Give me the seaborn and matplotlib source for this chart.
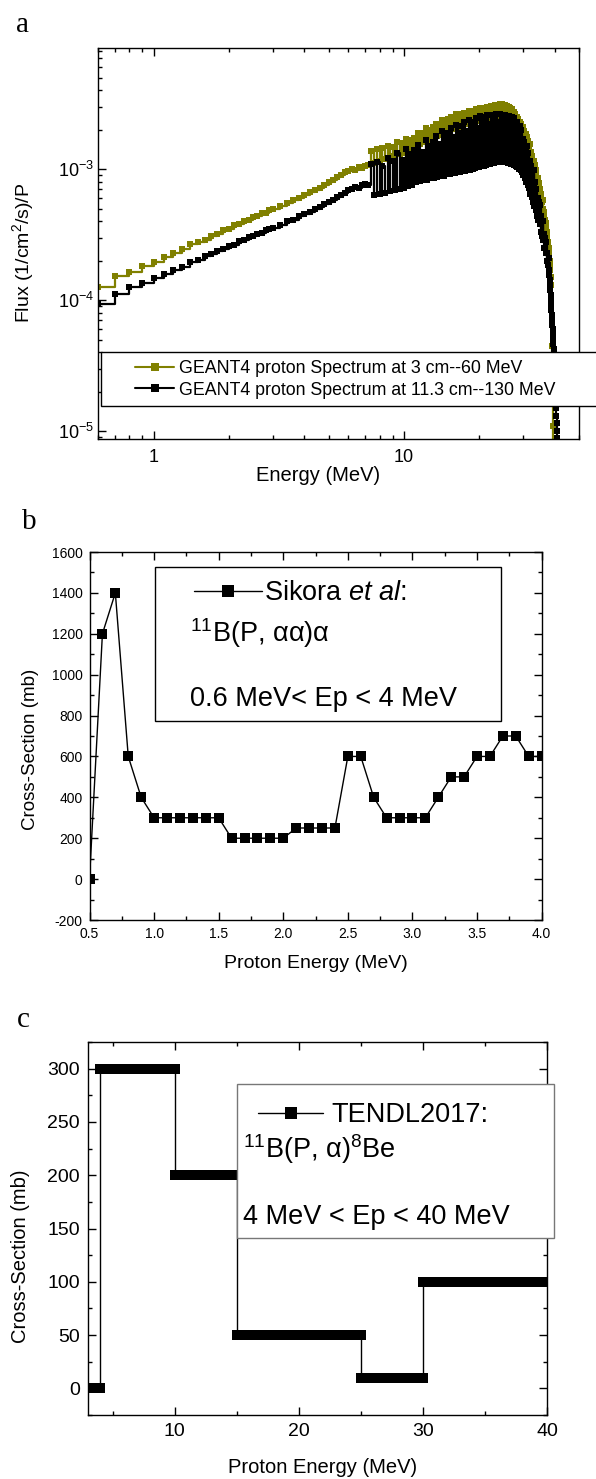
import numpy as np
import seaborn as sns
import matplotlib.pyplot as plt
from matplotlib.lines import Line2D
from matplotlib.patches import Rectangle
from matplotlib.ticker import LogLocator, MultipleLocator, NullFormatter

sns.set_theme(style="ticks")
plt.rcParams['font.family'] = ['Liberation Sans', 'DejaVu Sans']
plt.rcParams.update({
    'mathtext.fontset': 'custom',
    'mathtext.rm': 'Liberation Sans',
    'mathtext.it': 'Liberation Sans:italic',
    'mathtext.default': 'regular',
    'axes.unicode_minus': False,
    'text.color': 'black',
    'axes.labelcolor': 'black',
    'axes.edgecolor': 'black',
    'xtick.color': 'black',
    'ytick.color': 'black',
    'axes.linewidth': 1.0,
})

W, H = 596, 1479
OLIVE = '#808000'

# ---------------- panel a : GEANT4 spectra (flux in 1e-6 units) ----------------
energy_fine = [0.6, 0.7, 0.8, 0.9, 1.0, 1.1, 1.2, 1.3, 1.4, 1.5, 1.6, 1.7, 1.8,
               1.9, 2.0, 2.1, 2.2, 2.3, 2.4, 2.5, 2.6, 2.7, 2.8, 2.9, 3.0]
energy_coarse = np.round(np.arange(3.2, 37.81, 0.2), 1)   # 0.2 MeV bins
energy_tail = np.round(np.arange(38.0, 41.01, 0.1), 1)    # fall-off, 0.1 MeV bins

flux_3cm_fine = [126, 152, 163, 183, 196, 214, 230, 246, 266, 277, 290, 310, 320,
                 342, 350, 372, 380, 402, 410, 430, 438, 460, 466, 490, 496]
flux_3cm_coarse = [
    527, 552, 585, 606, 636,
    665, 690, 722, 755, 790,
    820, 870, 905, 945, 965,
    1000, 990, 1040, 1020, 1060,
    1070, 1380, 1120, 1420, 1160,
    1460, 1200, 1490, 1250, 1470,
    1280, 1600, 1300, 1580, 1330,
    1700, 1380, 1680, 1400, 1720,
    1500, 1900, 1550, 1870, 1600,
    2050, 1650, 2000, 1680, 2080,
    1750, 2200, 1780, 2170, 1820,
    2380, 1900, 2320, 1930, 2400,
    2000, 2500, 2030, 2460, 2060,
    2620, 2100, 2580, 2150, 2640,
    2180, 2700, 2200, 2660, 2230,
    2780, 2250, 2740, 2280, 2800,
    2300, 2850, 2330, 2820, 2350,
    2920, 2380, 2880, 2400, 2950,
    2420, 3000, 2450, 2970, 2470,
    3050, 2480, 3020, 2500, 3080,
    2510, 3100, 2520, 3080, 2530,
    3150, 2540, 3120, 2530, 3100,
    2520, 3100, 2500, 3050, 2480,
    2980, 2450, 2920, 2400, 2850,
    2350, 2750, 2280, 2650, 2200,
    2500, 2120, 2420, 2050, 2300,
    1950, 2200, 1880, 2100, 1800,
    1950, 1700, 1850, 1620, 1750,
    1550, 1650, 1450, 1550, 1350,
    1350, 1220, 1250, 1120, 1150,
    1000, 1080, 920, 980, 850,
    850, 760, 780, 690, 700,
    620, 640, 560, 580, 500,
    470, 440, 410, 390, 350,
    330, 300, 280, 250,
]
flux_3cm_tail = [230, 215, 200, 185, 170, 150, 130, 110, 90, 70, 45, 17, 11, 6, 4,
                 3, 2, 2, 1, 1, 1, 1, 1, 1, 1, 1, 1, 1, 1, 1, 1]

flux_11cm_fine = [94, 112, 125, 136, 148, 157, 171, 180, 195, 203, 217, 224, 239,
                  245, 259, 265, 281, 286, 301, 306, 320, 326, 340, 346, 358]
flux_11cm_coarse = [
    375, 398, 412, 436, 452,
    472, 495, 515, 540, 560,
    580, 610, 635, 660, 690,
    700, 725, 715, 750, 770,
    760, 1100, 630, 1130, 650,
    1050, 660, 1220, 680, 1150,
    690, 1320, 710, 1180, 720,
    1430, 740, 1300, 760, 1410,
    790, 1540, 810, 1350, 820,
    1660, 830, 1500, 850, 1620,
    860, 1800, 870, 1550, 880,
    1940, 890, 1700, 910, 1880,
    920, 2060, 930, 1750, 940,
    2170, 945, 1900, 955, 2120,
    960, 2280, 970, 1950, 980,
    2380, 990, 2100, 1000, 2300,
    1020, 2450, 1030, 2050, 1040,
    2520, 1050, 2250, 1060, 2480,
    1080, 2570, 1090, 2200, 1100,
    2600, 1110, 2350, 1120, 2560,
    1130, 2620, 1130, 2300, 1140,
    2630, 1140, 2400, 1140, 2580,
    1140, 2600, 1130, 2250, 1120,
    2540, 1110, 2300, 1100, 2480,
    1090, 2440, 1070, 2150, 1050,
    2280, 1040, 2050, 1000, 2150,
    980, 1980, 950, 1700, 900,
    1620, 860, 1450, 800, 1500,
    760, 1320, 720, 1150, 650,
    1060, 610, 950, 560, 980,
    520, 800, 490, 700, 440,
    600, 410, 560, 380, 530,
    330, 440, 310, 400, 290,
    320, 250, 300, 230, 280,
    200, 230, 185, 210,
]
flux_11cm_tail = [170, 155, 142, 130, 119, 109, 100, 92, 84, 77, 71, 65, 60, 55,
                  50, 46, 42, 38, 35, 31, 28, 25, 22, 19.5, 17, 15, 13, 11.5, 10,
                  8.8, 7.6]

labels_a = ['GEANT4 proton Spectrum at 3 cm--60 MeV',
            'GEANT4 proton Spectrum at 11.3 cm--130 MeV']

# ---------------- panel b : Sikora et al ----------------
b_energy = [0.5, 0.6, 0.7, 0.8, 0.9, 1.0, 1.1, 1.2, 1.3, 1.4, 1.5, 1.6, 1.7, 1.8,
            1.9, 2.0, 2.1, 2.2, 2.3, 2.4, 2.5, 2.6, 2.7, 2.8, 2.9, 3.0, 3.1, 3.2,
            3.3, 3.4, 3.5, 3.6, 3.7, 3.8, 3.9, 4.0]
b_xs = [0, 1200, 1400, 600, 400, 300, 300, 300, 300, 300, 300, 200, 200, 200,
        200, 200, 250, 250, 250, 250, 600, 600, 400, 300, 300, 300, 300, 400,
        500, 500, 600, 600, 700, 700, 600, 600]

# ---------------- panel c : TENDL2017 ----------------
c_start = [3, 4, 10, 15, 25, 30]
c_end = [4, 10, 15, 25, 30, 40]
c_xs = [0, 300, 200, 50, 10, 100]


def fig_rect(left, top, right, bottom):
    return [left / W, 1 - bottom / H, (right - left) / W, (bottom - top) / H]


def fx(x):
    return x / W


def fy(y):
    return 1 - y / H


def box(left, top, right, bottom, ec='black'):
    r = Rectangle((fx(left), fy(bottom)), (right - left) / W, (bottom - top) / H,
                  transform=fig.transFigure, facecolor='white', edgecolor=ec,
                  lw=1.0, zorder=5)
    fig.add_artist(r)


def style_ticks(ax, labelsize, pad, right=True):
    ax.tick_params(which='both', direction='in', top=True, right=right, width=1)
    ax.tick_params(which='major', length=6, labelsize=labelsize, pad=pad)
    ax.tick_params(which='minor', length=3)


fig = plt.figure(figsize=(W / 100, H / 100), dpi=100)

# ---- a ----
energy = np.concatenate([energy_fine, energy_coarse, energy_tail])
flux_3cm = np.array(flux_3cm_fine + flux_3cm_coarse + flux_3cm_tail) * 1e-6
flux_11cm = np.array(flux_11cm_fine + flux_11cm_coarse + flux_11cm_tail) * 1e-6

ax_a = fig.add_axes(fig_rect(98, 48, 579, 439))
for y, col in [(flux_3cm, OLIVE), (flux_11cm, 'black')]:
    sns.lineplot(x=energy, y=y, ax=ax_a, color=col, marker='s', markersize=5,
                 markeredgewidth=0, lw=1.6, drawstyle='steps-post',
                 estimator=None, sort=False, legend=False)
ax_a.set_xscale('log')
ax_a.set_yscale('log')
ax_a.set_xlim(0.6, 50)
ax_a.set_ylim(8.7e-6, 8.4e-3)
ax_a.set_xticks([1, 10], labels=['1', '10'])
ax_a.xaxis.set_minor_locator(LogLocator(base=10, subs=np.arange(2, 10)))
ax_a.xaxis.set_minor_formatter(NullFormatter())
ax_a.yaxis.set_major_locator(LogLocator(base=10, numticks=10))
ax_a.yaxis.set_minor_locator(LogLocator(base=10, subs=np.arange(2, 10), numticks=10))
ax_a.yaxis.set_minor_formatter(NullFormatter())
style_ticks(ax_a, 13, 3, right=False)
ax_a.tick_params(axis='x', which='major', pad=7)
ax_a.set_xlabel('Energy (MeV)', fontsize=14.5, va='center')
ax_a.xaxis.set_label_coords(0.457, -0.094)
ax_a.set_ylabel('Flux (1/cm$^{2}$/s)/P', fontsize=14, va='center')
ax_a.yaxis.set_label_coords(-0.156, 0.476)

box(101, 352, 600, 406)
handles_a = [Line2D([], [], color=OLIVE, marker='s', ms=6, mew=0, lw=1.5),
             Line2D([], [], color='black', marker='s', ms=6, mew=0, lw=1.5)]
leg = fig.legend(handles_a, labels_a, loc='center left',
                 bbox_to_anchor=(fx(135), fy(379.5)), frameon=False, fontsize=12.8,
                 handlelength=2.2, handletextpad=0.3, labelspacing=0.25,
                 borderpad=0, borderaxespad=0)
leg.set_zorder(7)

# ---- b ----
ax_b = fig.add_axes(fig_rect(89.5, 552, 541.6, 920))
sns.lineplot(x=b_energy, y=b_xs, ax=ax_b, color='black', marker='s',
             markersize=7.5, markeredgewidth=0, lw=1.0, estimator=None,
             sort=False, legend=False)
ax_b.set_xlim(0.5, 4.0)
ax_b.set_ylim(-200, 1600)
ax_b.xaxis.set_major_locator(MultipleLocator(0.5))
ax_b.xaxis.set_minor_locator(MultipleLocator(0.25))
ax_b.yaxis.set_major_locator(MultipleLocator(200))
ax_b.yaxis.set_minor_locator(MultipleLocator(100))
style_ticks(ax_b, 10, 5)
ax_b.set_xlabel('Proton Energy (MeV)', fontsize=14, va='center')
ax_b.xaxis.set_label_coords(0.5, -0.117)
ax_b.set_ylabel('Cross-Section (mb)', fontsize=13.5, va='center')
ax_b.yaxis.set_label_coords(-0.131, 0.465)

box(155, 567, 501, 721)
leg = fig.legend([Line2D([], [], color='black', marker='s', ms=9, mew=0, lw=1)],
                 [r'Sikora $\mathit{et\ al}$:'], loc='center left',
                 bbox_to_anchor=(fx(194), fy(593)), frameon=False, fontsize=19.5,
                 handlelength=2.5, handletextpad=0.07, borderpad=0, borderaxespad=0)
leg.set_zorder(7)
fig.text(fx(190), fy(633), '$^{11}$B(P, αα)α', fontsize=19.5, va='center', zorder=7)
fig.text(fx(190), fy(699), '0.6 MeV< Ep < 4 MeV', fontsize=19.5, va='center', zorder=7)

# ---- c ----
ax_c = fig.add_axes(fig_rect(88, 1042, 547, 1415))
ax_c.hlines(c_xs, c_start, c_end, colors='black', lw=7.2, capstyle='projecting',
            zorder=3)
sns.lineplot(x=c_start + [c_end[-1]], y=c_xs + [c_xs[-1]], ax=ax_c, color='black',
             lw=1.0, drawstyle='steps-post', estimator=None, sort=False, legend=False)
ax_c.set_xlim(3, 40)
ax_c.set_ylim(-25, 325)
ax_c.xaxis.set_major_locator(MultipleLocator(10))
ax_c.xaxis.set_minor_locator(MultipleLocator(5))
ax_c.yaxis.set_major_locator(MultipleLocator(50))
ax_c.yaxis.set_minor_locator(MultipleLocator(25))
style_ticks(ax_c, 14, 6)
ax_c.set_xlabel('Proton Energy (MeV)', fontsize=14.5, va='center')
ax_c.xaxis.set_label_coords(0.51, -0.142)
ax_c.set_ylabel('Cross-Section (mb)', fontsize=14.5, va='center')
ax_c.yaxis.set_label_coords(-0.148, 0.426)

box(237, 1084, 554, 1238, ec='#777777')
leg = fig.legend([Line2D([], [], color='black', marker='s', ms=9, mew=0, lw=1)],
                 ['TENDL2017:'], loc='center left',
                 bbox_to_anchor=(fx(258), fy(1115)), frameon=False, fontsize=19.5,
                 handlelength=2.4, handletextpad=0.3, borderpad=0, borderaxespad=0)
leg.set_zorder(7)
fig.text(fx(243), fy(1149), '$^{11}$B(P, α)$^{8}$Be', fontsize=19.5, va='center', zorder=7)
fig.text(fx(243), fy(1217), '4 MeV < Ep < 40 MeV', fontsize=19.5, va='center', zorder=7)

# panel letters
for lx, ly, s in [(22.5, 25, 'a'), (29.5, 522, 'b'), (23.5, 1020, 'c')]:
    fig.text(fx(lx), fy(ly), s, family=['Liberation Serif'], fontsize=21,
             ha='center', va='center')

fig.savefig('out.png', dpi=100)
